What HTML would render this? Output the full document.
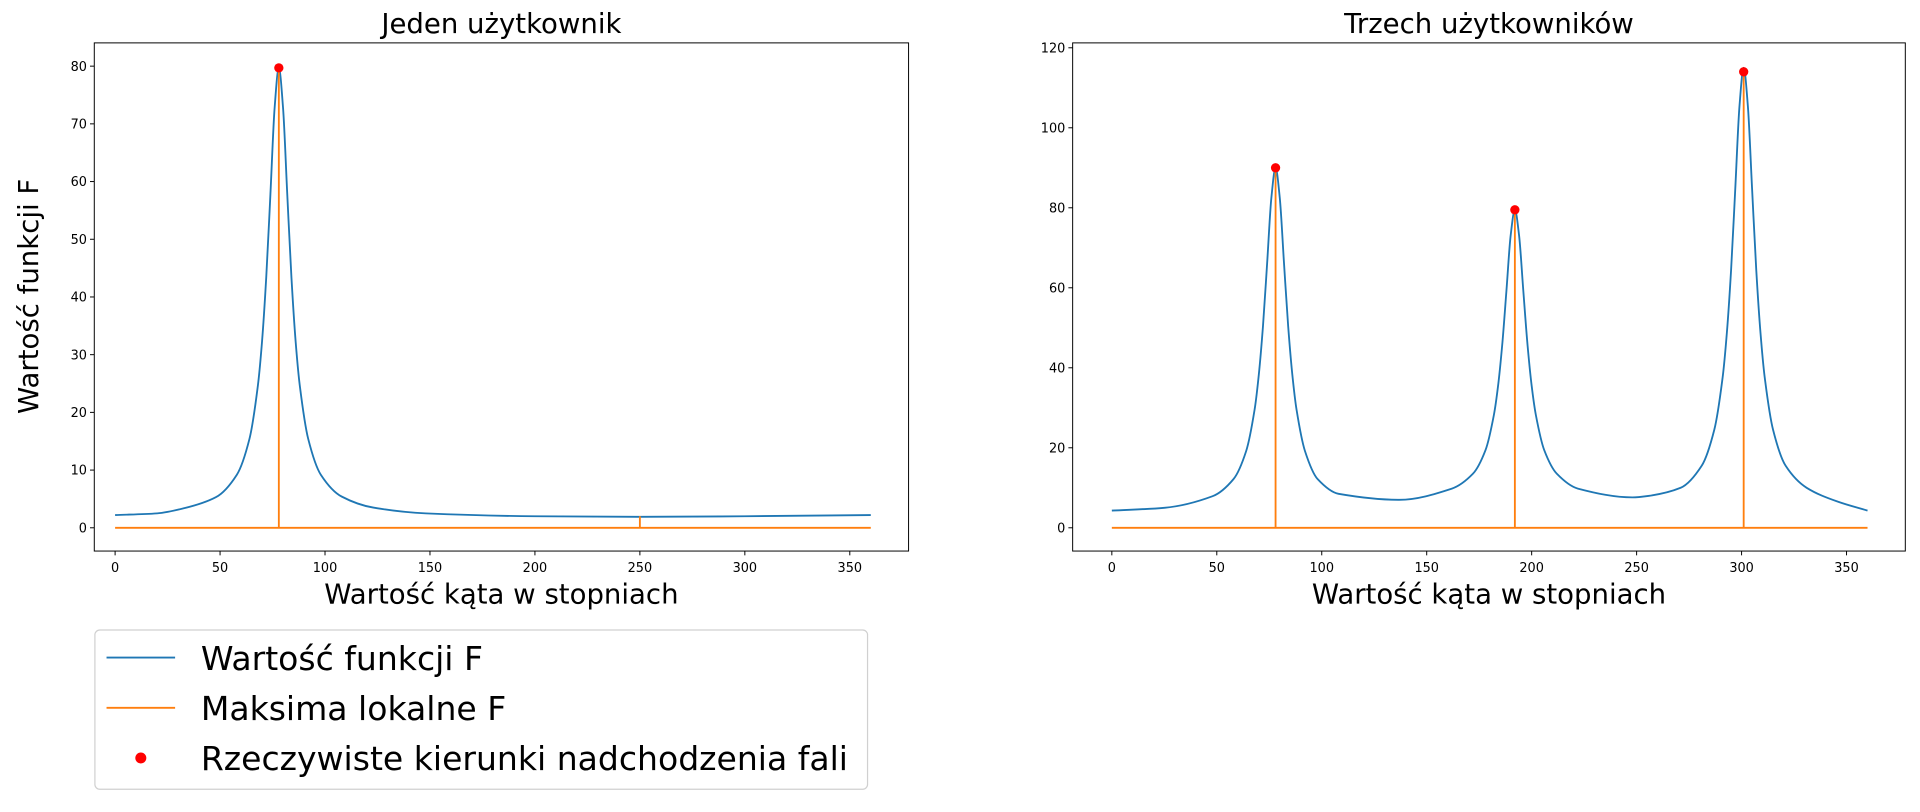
<!DOCTYPE html>
<html><head><meta charset="utf-8"><style>
body{margin:0;background:#fff;}
svg text{font-family:"DejaVu Sans","Liberation Sans",sans-serif;fill:#000;}
</style></head><body>
<svg id="chart" width="1920" height="807" viewBox="0 0 1568 659" xmlns="http://www.w3.org/2000/svg"></svg>
<script>
const xTicks=[0,50,100,150,200,250,300,350];
const leftYTicks=[0,10,20,30,40,50,60,70,80];
const rightYTicks=[0,20,40,60,80,100,120];
const leftAngles=[0,20,33,48,58,64,68,70,72,74,76,78,80,82,84,86,88,92,98,108,123,148,200,250,300,360];
const leftValues=[2.2,2.5,3.4,5.3,9.2,15.4,24.6,32.3,43.4,57.9,72.8,79.7,72.8,57.9,43.4,32.3,24.6,15.4,9.2,5.4,3.5,2.5,2.0,1.9,2.0,2.2];
const leftPeakAngles=[78,250];
const leftPeakValues=[79.7,2];
const leftTrueAngles=[78];
const leftTrueValues=[79.7];
const rightAngles=[0,25,48,58,64,68,70,72,74,76,78,80,82,84,86,88,92,98,108,137,162,172,178,182,184,186,188,190,192,194,196,198,200,202,206,212,222,248,256,271,281,287,291,293,295,297,299,301,303,305,307,309,311,315,321,331,346,360];
const rightValues=[4.3,5,7.9,12.2,19.2,29.5,38.2,50.4,66.3,82.5,90,82.5,66.3,50.4,38.2,29.5,19.2,12.2,8.5,7,9.8,13.5,19.4,28.2,35.5,45.9,59.4,73.1,79.5,73.1,59.4,45.9,35.5,28.2,19.4,13.5,9.8,7.6,8,10,15.5,24.5,37.7,48.8,64.4,84.8,105.4,115,105.4,84.8,64.4,48.8,37.7,24.5,15.5,10,6.5,4.3];
const rightPeakAngles=[78,192,301];
const rightPeakValues=[90,79.5,115];
const rightTrueAngles=[78,192,301];
const rightTrueValues=[90,79.5,114];

const svg=document.getElementById('chart');
const NS='http://www.w3.org/2000/svg';
function mk(tag,attrs,parent){const e=document.createElementNS(NS,tag);for(const k in attrs)e.setAttribute(k,attrs[k]);(parent||svg).appendChild(e);return e;}

function monotonePath(xs,ys){
  const n=xs.length,d=[],m=new Array(n);
  for(let i=0;i<n-1;i++)d.push((ys[i+1]-ys[i])/(xs[i+1]-xs[i]));
  m[0]=d[0];m[n-1]=d[n-2];
  for(let i=1;i<n-1;i++){
    if(d[i-1]*d[i]<=0)m[i]=0;
    else{m[i]=2/(1/d[i-1]+1/d[i]);}
  }
  let p='M'+xs[0]+','+ys[0];
  for(let i=0;i<n-1;i++){
    const h=xs[i+1]-xs[i];
    p+=' C'+(xs[i]+h/3)+','+(ys[i]+m[i]*h/3)+' '+(xs[i+1]-h/3)+','+(ys[i+1]-m[i+1]*h/3)+' '+xs[i+1]+','+ys[i+1];
  }
  return p;
}

function panel(cfg){
  const g=mk('g',{});
  
  
  const {x0,x1,y0,y1}=cfg;
  const X=v=>cfg.px0+v*cfg.pxPerDeg;
  const Y=v=>cfg.py0-v*cfg.pxPerUnit;
  const curve=mk('path',{d:monotonePath(cfg.angles.map(X),cfg.values.map(Y)),fill:'none',stroke:'#1f77b4','stroke-width':1.5},g);
  
  
  const base=mk('line',{x1:X(0),x2:X(360),y1:Y(0),y2:Y(0),stroke:'#ff7f0e','stroke-width':1.5},g);
  
  
  cfg.peakA.forEach((a,i)=>{
    const s=mk('line',{x1:X(a),x2:X(a),y1:Y(0),y2:Y(cfg.peakV[i]),stroke:'#ff7f0e','stroke-width':1.5},g);
    
    
  });
  cfg.trueA.forEach((a,i)=>{
    const c=mk('circle',{cx:X(a),cy:Y(cfg.trueV[i]),r:3.8,fill:'#ff0000'},g);
    
    
  });
  const fr=mk('rect',{x:x0,y:y0,width:x1-x0,height:y1-y0,fill:'none',stroke:'#000','stroke-width':0.8},g);
  
  
  xTicks.forEach(t=>{
    mk('line',{x1:X(t),x2:X(t),y1:y1,y2:y1+3.5,stroke:'#000','stroke-width':0.8},g);
    const tx=mk('text',{x:X(t),y:y1+17,'text-anchor':'middle','font-size':10.5},g);
    tx.textContent=t;
    
    
  });
  cfg.yTicks.forEach(t=>{
    mk('line',{x1:x0-3.5,x2:x0,y1:Y(t),y2:Y(t),stroke:'#000','stroke-width':0.8},g);
    const tx=mk('text',{x:x0-6,y:Y(t)+3.8,'text-anchor':'end','font-size':10.5},g);
    tx.textContent=t;
    
    
  });
  const ti=mk('text',{x:(x0+x1)/2,y:y0-8,'text-anchor':'middle','font-size':22.5},g);
  ti.textContent=cfg.title;
  
  
  const xl=mk('text',{x:(x0+x1)/2,y:y1+43,'text-anchor':'middle','font-size':22.5},g);
  xl.textContent='Wartość kąta w stopniach';
  
  
}
panel({name:'left-panel',x0:77,x1:742,y0:35,y1:450,px0:94,pxPerDeg:600/350,py0:431,pxPerUnit:(431-54)/80,
  angles:leftAngles,values:leftValues,peakA:leftPeakAngles,peakV:leftPeakValues,trueA:leftTrueAngles,trueV:leftTrueValues,yTicks:leftYTicks,title:'Jeden użytkownik'});
panel({name:'right-panel',x0:876,x1:1556,y0:35,y1:450,px0:908,pxPerDeg:600/350,py0:431,pxPerUnit:(431-39)/120,
  angles:rightAngles,values:rightValues,peakA:rightPeakAngles,peakV:rightPeakValues,trueA:rightTrueAngles,trueV:rightTrueValues,yTicks:rightYTicks,title:'Trzech użytkowników'});
const yl=mk('text',{x:0,y:0,'text-anchor':'middle','font-size':22.5,transform:'translate(31,242) rotate(-90)'});
yl.textContent='Wartość funkcji F';


const lg=mk('g',{});


mk('rect',{x:77.5,y:514.5,width:631,height:130,rx:4,fill:'#fff',stroke:'#d0d0d0'},lg);
const items=[['Wartość funkcji F','line','#1f77b4'],['Maksima lokalne F','line','#ff7f0e'],['Rzeczywiste kierunki nadchodzenia fali','dot','#ff0000']];
items.forEach((it,i)=>{
  const y=537+i*41;
  if(it[1]==='line')mk('line',{x1:87,x2:143,y1:y,y2:y,stroke:it[2],'stroke-width':1.5},lg);
  else mk('circle',{cx:115,cy:y,r:4.5,fill:it[2]},lg);
  const t=mk('text',{x:164,y:y+10,'font-size':27},lg);
  t.textContent=it[0];
  
  
});
</script>
</body></html>
